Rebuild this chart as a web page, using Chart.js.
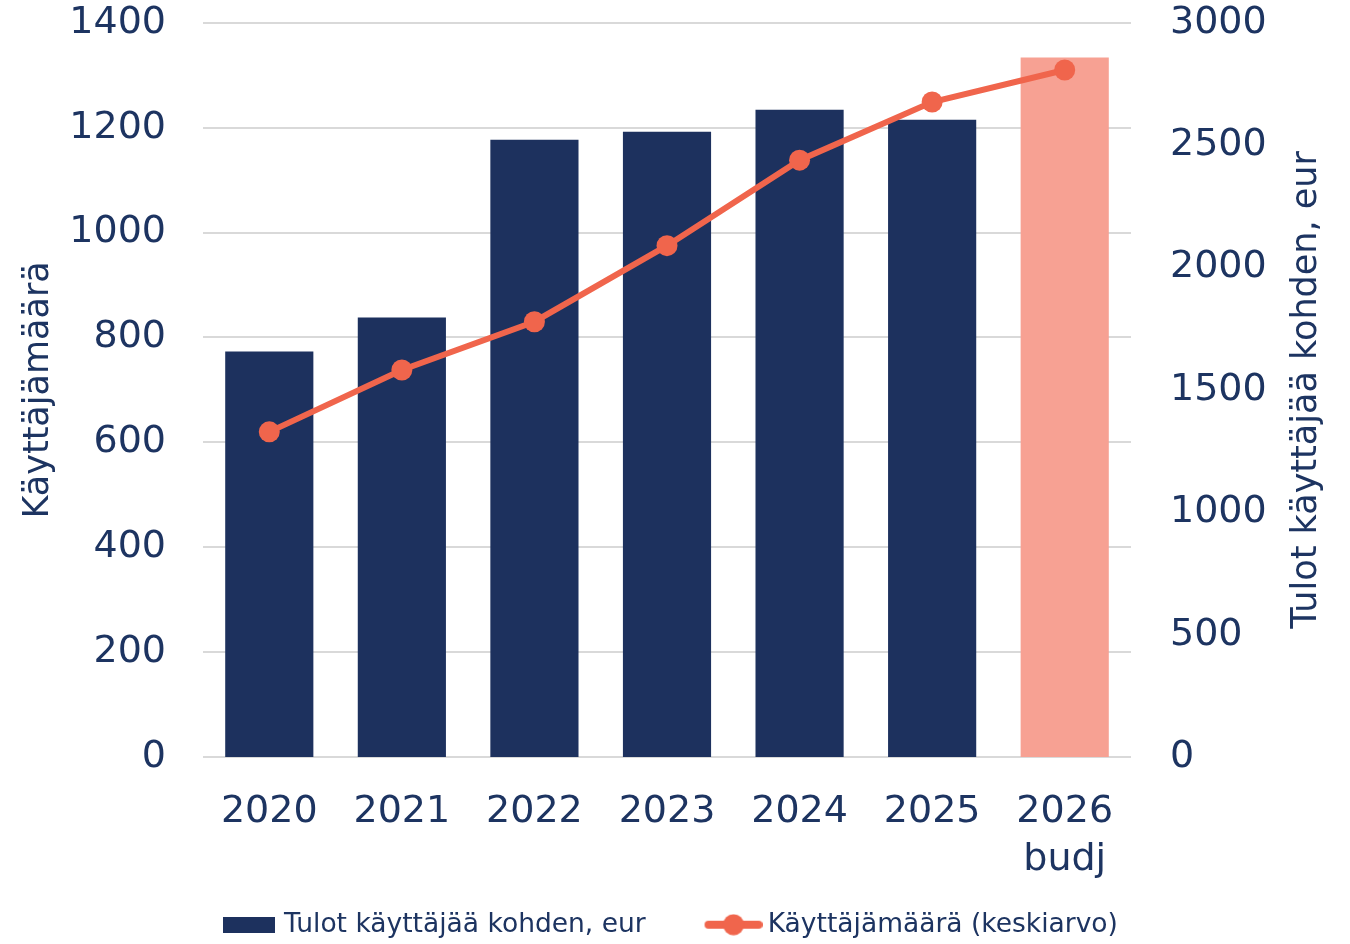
<!DOCTYPE html>
<html>
<head>
<meta charset="utf-8">
<script src="https://cdn.jsdelivr.net/npm/chart.js@4"></script>
<style>
  html, body { margin: 0; padding: 0; background: #ffffff; overflow: hidden; }
  #wrap { width: 1350px; height: 944px; overflow: hidden; }
</style>
</head>
<body>
<div id="wrap"><canvas id="usersChart" width="1350" height="948"></canvas></div>
<script>
// Chart data
const years = ['2020', '2021', '2022', '2023', '2024', '2025', ['2026', 'budj']];
const incomePerUser = [1657, 1796, 2522, 2555, 2645, 2604, 2858];
const userCount = [620, 738, 830, 975, 1138, 1249, 1310];
const leftTicks = [0, 200, 400, 600, 800, 1000, 1200, 1400];
const rightTicks = [0, 500, 1000, 1500, 2000, 2500, 3000];

const incomeLabel = 'Tulot käyttäjää kohden, eur';
const usersLabel = 'Käyttäjämäärä (keskiarvo)';
const leftTitle = 'Käyttäjämäärä';
const rightTitle = 'Tulot käyttäjää kohden, eur';

// Colours
const NAVY = '#1d315e';
const SALMON = '#f7a193';
const ORANGE = '#f0654c';
const TEXT = '#1d3461';
const GRID = '#d9d9d9';
const FONT = '"DejaVu Sans", sans-serif';

const barColors = [NAVY, NAVY, NAVY, NAVY, NAVY, NAVY, SALMON];

// Legend swatches (drawn as point-style images)
const LEGEND_BOX = 98.75;

function makeBarSwatch() {
    const c = document.createElement('canvas');
    c.width = 107;
    c.height = 16;
    const ctx = c.getContext('2d');
    ctx.fillStyle = NAVY;
    ctx.fillRect(c.width - 52, 0, 52, 16);
    return c;
}

function makeLineSwatch() {
    const c = document.createElement('canvas');
    c.width = 115;
    c.height = 22;
    const ctx = c.getContext('2d');
    const x0 = c.width - 58;
    ctx.strokeStyle = ORANGE;
    ctx.lineWidth = 8;
    ctx.lineCap = 'round';
    ctx.beginPath();
    ctx.moveTo(x0 + 4, 11);
    ctx.lineTo(c.width - 4, 11);
    ctx.stroke();
    ctx.fillStyle = ORANGE;
    ctx.beginPath();
    ctx.arc(x0 + 29, 11, 10.5, 0, Math.PI * 2);
    ctx.fill();
    return c;
}

const barSwatch = makeBarSwatch();
const lineSwatch = makeLineSwatch();

// Right axis title reads bottom-to-top, so draw it here
const rightTitlePlugin = {
    id: 'rightTitle',
    afterDraw(chart) {
        const ctx = chart.ctx;
        const area = chart.chartArea;
        const scale = chart.scales.yRight;
        ctx.save();
        ctx.translate(scale.left + 176, (area.top + area.bottom) / 2);
        ctx.rotate(-Math.PI / 2);
        ctx.font = '35px ' + FONT;
        ctx.fillStyle = TEXT;
        ctx.textAlign = 'center';
        ctx.textBaseline = 'middle';
        ctx.fillText(rightTitle, 0, 0);
        ctx.restore();
    }
};

function plainNumber(value) {
    return String(value);
}

function initializeChart() {
    const ctx = document.getElementById('usersChart');

    new Chart(ctx, {
        type: 'bar',
        data: {
            labels: years,
            datasets: [{
                type: 'bar',
                label: incomeLabel,
                data: incomePerUser,
                backgroundColor: barColors,
                borderWidth: 0,
                yAxisID: 'yRight',
                barPercentage: 0.665,
                categoryPercentage: 1,
                order: 2
            }, {
                type: 'line',
                label: usersLabel,
                data: userCount,
                borderColor: ORANGE,
                backgroundColor: ORANGE,
                borderWidth: 6,
                pointRadius: 10.5,
                pointBackgroundColor: ORANGE,
                pointBorderWidth: 0,
                tension: 0,
                yAxisID: 'yLeft',
                order: 1
            }]
        },
        options: {
            responsive: false,
            animation: false,
            events: [],
            layout: { padding: { top: 0, left: 0, right: 60, bottom: 0 } },
            scales: {
                x: {
                    grid: { display: false },
                    border: { display: false },
                    ticks: {
                        color: TEXT,
                        font: { family: FONT, size: 38, lineHeight: 1.27 },
                        padding: 23,
                        maxRotation: 0
                    },
                    afterFit(scale) {
                        scale.height = 191 - scale.chart.legend.height;
                    }
                },
                yLeft: {
                    position: 'left',
                    min: 0,
                    max: 1400,
                    afterBuildTicks(scale) {
                        scale.ticks = leftTicks.map(v => ({ value: v }));
                    },
                    grid: { color: GRID, lineWidth: 2, drawTicks: true, tickLength: 37, tickColor: 'rgba(0,0,0,0)' },
                    border: { display: false },
                    ticks: {
                        color: TEXT,
                        font: { family: FONT, size: 38 },
                        padding: 0,
                        callback: plainNumber
                    },
                    title: {
                        display: true,
                        text: leftTitle,
                        color: TEXT,
                        font: { family: FONT, size: 35 },
                        padding: { top: 18, bottom: 0 }
                    },
                    afterFit(scale) {
                        scale.width = 203;
                    }
                },
                yRight: {
                    position: 'right',
                    min: 0,
                    max: 3000,
                    afterBuildTicks(scale) {
                        scale.ticks = rightTicks.map(v => ({ value: v }));
                    },
                    grid: { display: false, drawTicks: true, tickLength: 39 },
                    border: { display: false },
                    ticks: {
                        color: TEXT,
                        font: { family: FONT, size: 38 },
                        padding: 0,
                        callback: plainNumber
                    },
                    afterFit(scale) {
                        scale.width = 159;
                    }
                }
            },
            plugins: {
                tooltip: { enabled: false },
                legend: {
                    position: 'bottom',
                    labels: {
                        color: TEXT,
                        font: { family: FONT, size: 26.5 },
                        usePointStyle: true,
                        pointStyleWidth: LEGEND_BOX,
                        padding: 10,
                        generateLabels() {
                            return [
                                { text: incomeLabel, pointStyle: barSwatch, fontColor: TEXT, lineWidth: 0, datasetIndex: 0 },
                                { text: usersLabel, pointStyle: lineSwatch, fontColor: TEXT, lineWidth: 0, datasetIndex: 1 }
                            ];
                        }
                    }
                }
            }
        },
        plugins: [rightTitlePlugin]
    });
}

document.addEventListener('DOMContentLoaded', initializeChart);
</script>
</body>
</html>
